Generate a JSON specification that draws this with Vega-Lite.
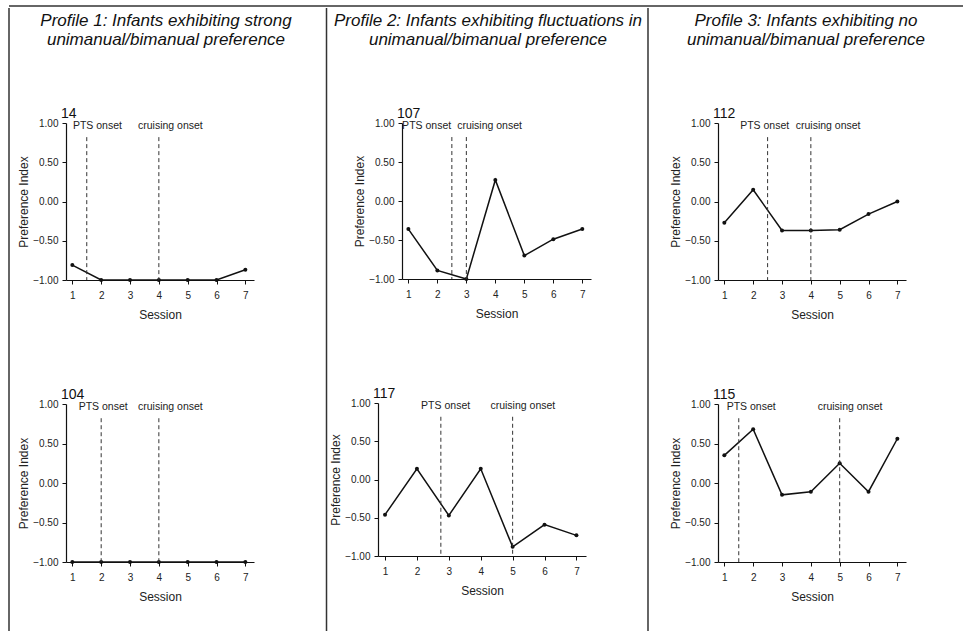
{
  "$schema": "https://vega.github.io/schema/vega-lite/v6.json",
  "padding": {"left": 8, "top": 5, "right": 0, "bottom": 0},
  "datasets": {
    "pts": [
      {"infant": 14, "session": 1, "pi": -0.81}, {"infant": 14, "session": 2, "pi": -1.0}, {"infant": 14, "session": 3, "pi": -1.0}, {"infant": 14, "session": 4, "pi": -1.0}, {"infant": 14, "session": 5, "pi": -1.0}, {"infant": 14, "session": 6, "pi": -1.0}, {"infant": 14, "session": 7, "pi": -0.87},
      {"infant": 104, "session": 1, "pi": -1.0}, {"infant": 104, "session": 2, "pi": -1.0}, {"infant": 104, "session": 3, "pi": -1.0}, {"infant": 104, "session": 4, "pi": -1.0}, {"infant": 104, "session": 5, "pi": -1.0}, {"infant": 104, "session": 6, "pi": -1.0}, {"infant": 104, "session": 7, "pi": -1.0},
      {"infant": 107, "session": 1, "pi": -0.36}, {"infant": 107, "session": 2, "pi": -0.89}, {"infant": 107, "session": 3, "pi": -1.0}, {"infant": 107, "session": 4, "pi": 0.27}, {"infant": 107, "session": 5, "pi": -0.7}, {"infant": 107, "session": 6, "pi": -0.49}, {"infant": 107, "session": 7, "pi": -0.36},
      {"infant": 117, "session": 1, "pi": -0.46}, {"infant": 117, "session": 2, "pi": 0.14}, {"infant": 117, "session": 3, "pi": -0.47}, {"infant": 117, "session": 4, "pi": 0.14}, {"infant": 117, "session": 5, "pi": -0.88}, {"infant": 117, "session": 6, "pi": -0.59}, {"infant": 117, "session": 7, "pi": -0.73},
      {"infant": 112, "session": 1, "pi": -0.27}, {"infant": 112, "session": 2, "pi": 0.15}, {"infant": 112, "session": 3, "pi": -0.37}, {"infant": 112, "session": 4, "pi": -0.37}, {"infant": 112, "session": 5, "pi": -0.36}, {"infant": 112, "session": 6, "pi": -0.16}, {"infant": 112, "session": 7, "pi": 0.0},
      {"infant": 115, "session": 1, "pi": 0.35}, {"infant": 115, "session": 2, "pi": 0.68}, {"infant": 115, "session": 3, "pi": -0.15}, {"infant": 115, "session": 4, "pi": -0.11}, {"infant": 115, "session": 5, "pi": 0.25}, {"infant": 115, "session": 6, "pi": -0.11}, {"infant": 115, "session": 7, "pi": 0.56}
    ],
    "onsets": [
      {"infant": 14, "event": "PTS onset", "session": 1.5, "label_x": 1.87},
      {"infant": 14, "event": "cruising onset", "session": 4, "label_x": 4.4},
      {"infant": 104, "event": "PTS onset", "session": 2, "label_x": 2.07},
      {"infant": 104, "event": "cruising onset", "session": 4, "label_x": 4.4},
      {"infant": 107, "event": "PTS onset", "session": 2.5, "label_x": 1.63},
      {"infant": 107, "event": "cruising onset", "session": 3, "label_x": 3.8},
      {"infant": 117, "event": "PTS onset", "session": 2.75, "label_x": 2.9},
      {"infant": 117, "event": "cruising onset", "session": 5, "label_x": 5.32},
      {"infant": 112, "event": "PTS onset", "session": 2.5, "label_x": 2.4},
      {"infant": 112, "event": "cruising onset", "session": 4, "label_x": 4.6},
      {"infant": 115, "event": "PTS onset", "session": 1.5, "label_x": 1.93},
      {"infant": 115, "event": "cruising onset", "session": 5, "label_x": 5.36}
    ],
    "frame": [{"edge": 0}]
  },
  "spacing": 0,
  "vconcat": [
    {
      "width": 954, "height": 1,
      "data": {"name": "frame"},
      "mark": {"type": "rule", "color": "#333", "strokeWidth": 1.5},
      "encoding": {
        "x": {"datum": 0, "type": "quantitative", "scale": {"domain": [0, 1]}, "axis": null},
        "x2": {"datum": 1},
        "y": {"datum": 1, "type": "quantitative", "scale": {"domain": [0, 1]}, "axis": null}
      }
    },
    {
      "spacing": 0,
      "hconcat": [
        {
          "width": 8, "height": 508,
          "data": {"name": "frame"},
          "mark": {"type": "rule", "color": "#333", "strokeWidth": 1.5},
          "encoding": {
            "x": {"datum": 0, "type": "quantitative", "scale": {"domain": [0, 1]}, "axis": null},
            "y": {"datum": 0, "type": "quantitative", "scale": {"domain": [0, 1]}, "axis": null},
            "y2": {"datum": 1.2264}
          }
        },
        {
          "title": {"text": ["Profile 1: Infants exhibiting strong", "unimanual/bimanual preference"], "fontSize": 17, "fontStyle": "italic", "lineHeight": 19, "anchor": "middle", "frame": "group", "offset": 58, "dx": 100},
          "spacing": 68,
          "vconcat": [
            {
              "title": {"text": "14", "anchor": "start", "frame": "group", "fontSize": 14, "dx": -5, "offset": -3},
              "width": 188, "height": 157,
              "layer": [
                {"data": {"name": "pts"}, "transform": [{"filter": "datum.infant == 14"}], "mark": {"type": "line", "color": "#111", "strokeWidth": 1.5},
                 "encoding": {"x": {"field": "session", "type": "quantitative", "scale": {"domain": [0.78, 7.3], "nice": false, "zero": false}, "axis": {"title": "Session", "values": [1, 2, 3, 4, 5, 6, 7], "tickCount": 20, "format": "d"}},
                              "y": {"field": "pi", "type": "quantitative", "scale": {"domain": [-1, 1], "nice": false, "zero": false}, "axis": {"title": "Preference Index", "values": [-1, -0.5, 0, 0.5, 1], "tickCount": 20, "format": ".2f"}}}},
                {"data": {"name": "pts"}, "transform": [{"filter": "datum.infant == 14"}], "mark": {"type": "point", "filled": true, "color": "#111", "size": 16, "opacity": 1},
                 "encoding": {"x": {"field": "session", "type": "quantitative", "scale": {"domain": [0.78, 7.3], "nice": false, "zero": false}}, "y": {"field": "pi", "type": "quantitative", "scale": {"domain": [-1, 1], "nice": false, "zero": false}}}},
                {"data": {"name": "onsets"}, "transform": [{"filter": "datum.infant == 14"}], "mark": {"type": "rule", "color": "#333", "strokeWidth": 1, "strokeDash": [4, 3]},
                 "encoding": {"x": {"field": "session", "type": "quantitative", "scale": {"domain": [0.78, 7.3], "nice": false, "zero": false}}, "y": {"datum": 0.82, "type": "quantitative", "scale": {"domain": [-1, 1], "nice": false, "zero": false}}, "y2": {"datum": -1}}},
                {"data": {"name": "onsets"}, "transform": [{"filter": "datum.infant == 14"}], "mark": {"type": "text", "fontSize": 10.5, "baseline": "middle", "color": "#222"},
                 "encoding": {"x": {"field": "label_x", "type": "quantitative", "scale": {"domain": [0.78, 7.3], "nice": false, "zero": false}}, "y": {"datum": 0.96, "type": "quantitative", "scale": {"domain": [-1, 1], "nice": false, "zero": false}}, "text": {"field": "event"}}}
              ]
            },
            {
              "title": {"text": "104", "anchor": "start", "frame": "group", "fontSize": 14, "dx": -5, "offset": -3},
              "width": 188, "height": 158,
              "layer": [
                {"data": {"name": "pts"}, "transform": [{"filter": "datum.infant == 104"}], "mark": {"type": "line", "color": "#111", "strokeWidth": 1.5},
                 "encoding": {"x": {"field": "session", "type": "quantitative", "scale": {"domain": [0.78, 7.3], "nice": false, "zero": false}, "axis": {"title": "Session", "values": [1, 2, 3, 4, 5, 6, 7], "tickCount": 20, "format": "d"}},
                              "y": {"field": "pi", "type": "quantitative", "scale": {"domain": [-1, 1], "nice": false, "zero": false}, "axis": {"title": "Preference Index", "values": [-1, -0.5, 0, 0.5, 1], "tickCount": 20, "format": ".2f"}}}},
                {"data": {"name": "pts"}, "transform": [{"filter": "datum.infant == 104"}], "mark": {"type": "point", "filled": true, "color": "#111", "size": 16, "opacity": 1},
                 "encoding": {"x": {"field": "session", "type": "quantitative", "scale": {"domain": [0.78, 7.3], "nice": false, "zero": false}}, "y": {"field": "pi", "type": "quantitative", "scale": {"domain": [-1, 1], "nice": false, "zero": false}}}},
                {"data": {"name": "onsets"}, "transform": [{"filter": "datum.infant == 104"}], "mark": {"type": "rule", "color": "#333", "strokeWidth": 1, "strokeDash": [4, 3]},
                 "encoding": {"x": {"field": "session", "type": "quantitative", "scale": {"domain": [0.78, 7.3], "nice": false, "zero": false}}, "y": {"datum": 0.82, "type": "quantitative", "scale": {"domain": [-1, 1], "nice": false, "zero": false}}, "y2": {"datum": -1}}},
                {"data": {"name": "onsets"}, "transform": [{"filter": "datum.infant == 104"}], "mark": {"type": "text", "fontSize": 10.5, "baseline": "middle", "color": "#222"},
                 "encoding": {"x": {"field": "label_x", "type": "quantitative", "scale": {"domain": [0.78, 7.3], "nice": false, "zero": false}}, "y": {"datum": 0.96, "type": "quantitative", "scale": {"domain": [-1, 1], "nice": false, "zero": false}}, "text": {"field": "event"}}}
              ]
            }
          ]
        },
        {
          "width": 36.25, "height": 508,
          "data": {"name": "frame"},
          "mark": {"type": "rule", "color": "#333", "strokeWidth": 1.5},
          "encoding": {
            "x": {"datum": 0.952, "type": "quantitative", "scale": {"domain": [0, 1]}, "axis": null},
            "y": {"datum": 0, "type": "quantitative", "scale": {"domain": [0, 1]}, "axis": null},
            "y2": {"datum": 1.2264}
          }
        },
        {
          "title": {"text": ["Profile 2: Infants exhibiting fluctuations in", "unimanual/bimanual preference"], "fontSize": 17, "fontStyle": "italic", "lineHeight": 19, "anchor": "middle", "frame": "group", "offset": 58, "dx": 110},
          "spacing": 68,
          "vconcat": [
            {
              "spacing": -26,
              "hconcat": [
                {
                  "width": 1, "height": 10,
                  "data": {"name": "frame"},
                  "mark": {"type": "rule", "opacity": 0},
                  "encoding": {
                    "x": {"datum": 0, "type": "quantitative", "scale": {"domain": [0, 1]}, "axis": null},
                    "y": {"datum": 0, "type": "quantitative", "scale": {"domain": [0, 1]}, "axis": null},
                    "y2": {"datum": 1}
                  }
                },
                {
                  "title": {"text": "107", "anchor": "start", "frame": "group", "fontSize": 14, "dx": -5, "offset": -3},
                  "width": 189, "height": 156,
                  "layer": [
                    {"data": {"name": "pts"}, "transform": [{"filter": "datum.infant == 107"}], "mark": {"type": "line", "color": "#111", "strokeWidth": 1.5},
                     "encoding": {"x": {"field": "session", "type": "quantitative", "scale": {"domain": [0.78, 7.3], "nice": false, "zero": false}, "axis": {"title": "Session", "values": [1, 2, 3, 4, 5, 6, 7], "tickCount": 20, "format": "d"}},
                                  "y": {"field": "pi", "type": "quantitative", "scale": {"domain": [-1, 1], "nice": false, "zero": false}, "axis": {"title": "Preference Index", "values": [-1, -0.5, 0, 0.5, 1], "tickCount": 20, "format": ".2f"}}}},
                    {"data": {"name": "pts"}, "transform": [{"filter": "datum.infant == 107"}], "mark": {"type": "point", "filled": true, "color": "#111", "size": 16, "opacity": 1},
                     "encoding": {"x": {"field": "session", "type": "quantitative", "scale": {"domain": [0.78, 7.3], "nice": false, "zero": false}}, "y": {"field": "pi", "type": "quantitative", "scale": {"domain": [-1, 1], "nice": false, "zero": false}}}},
                    {"data": {"name": "onsets"}, "transform": [{"filter": "datum.infant == 107"}], "mark": {"type": "rule", "color": "#333", "strokeWidth": 1, "strokeDash": [4, 3]},
                     "encoding": {"x": {"field": "session", "type": "quantitative", "scale": {"domain": [0.78, 7.3], "nice": false, "zero": false}}, "y": {"datum": 0.82, "type": "quantitative", "scale": {"domain": [-1, 1], "nice": false, "zero": false}}, "y2": {"datum": -1}}},
                    {"data": {"name": "onsets"}, "transform": [{"filter": "datum.infant == 107"}], "mark": {"type": "text", "fontSize": 10.5, "baseline": "middle", "color": "#222"},
                     "encoding": {"x": {"field": "label_x", "type": "quantitative", "scale": {"domain": [0.78, 7.3], "nice": false, "zero": false}}, "y": {"datum": 0.96, "type": "quantitative", "scale": {"domain": [-1, 1], "nice": false, "zero": false}}, "text": {"field": "event"}}}
                  ]
                }
              ]
            },
            {
              "title": {"text": "117", "anchor": "start", "frame": "group", "fontSize": 14, "dx": -5, "offset": -3},
              "width": 208, "height": 153,
              "layer": [
                {"data": {"name": "pts"}, "transform": [{"filter": "datum.infant == 117"}], "mark": {"type": "line", "color": "#111", "strokeWidth": 1.5},
                 "encoding": {"x": {"field": "session", "type": "quantitative", "scale": {"domain": [0.78, 7.3], "nice": false, "zero": false}, "axis": {"title": "Session", "values": [1, 2, 3, 4, 5, 6, 7], "tickCount": 20, "format": "d"}},
                              "y": {"field": "pi", "type": "quantitative", "scale": {"domain": [-1, 1], "nice": false, "zero": false}, "axis": {"title": "Preference Index", "values": [-1, -0.5, 0, 0.5, 1], "tickCount": 20, "format": ".2f"}}}},
                {"data": {"name": "pts"}, "transform": [{"filter": "datum.infant == 117"}], "mark": {"type": "point", "filled": true, "color": "#111", "size": 16, "opacity": 1},
                 "encoding": {"x": {"field": "session", "type": "quantitative", "scale": {"domain": [0.78, 7.3], "nice": false, "zero": false}}, "y": {"field": "pi", "type": "quantitative", "scale": {"domain": [-1, 1], "nice": false, "zero": false}}}},
                {"data": {"name": "onsets"}, "transform": [{"filter": "datum.infant == 117"}], "mark": {"type": "rule", "color": "#333", "strokeWidth": 1, "strokeDash": [4, 3]},
                 "encoding": {"x": {"field": "session", "type": "quantitative", "scale": {"domain": [0.78, 7.3], "nice": false, "zero": false}}, "y": {"datum": 0.82, "type": "quantitative", "scale": {"domain": [-1, 1], "nice": false, "zero": false}}, "y2": {"datum": -1}}},
                {"data": {"name": "onsets"}, "transform": [{"filter": "datum.infant == 117"}], "mark": {"type": "text", "fontSize": 10.5, "baseline": "middle", "color": "#222"},
                 "encoding": {"x": {"field": "label_x", "type": "quantitative", "scale": {"domain": [0.78, 7.3], "nice": false, "zero": false}}, "y": {"datum": 0.96, "type": "quantitative", "scale": {"domain": [-1, 1], "nice": false, "zero": false}}, "text": {"field": "event"}}}
              ]
            }
          ]
        },
        {
          "width": 25.5, "height": 508,
          "data": {"name": "frame"},
          "mark": {"type": "rule", "color": "#333", "strokeWidth": 1.5},
          "encoding": {
            "x": {"datum": 0.196, "type": "quantitative", "scale": {"domain": [0, 1]}, "axis": null},
            "y": {"datum": 0, "type": "quantitative", "scale": {"domain": [0, 1]}, "axis": null},
            "y2": {"datum": 1.2264}
          }
        },
        {
          "title": {"text": ["Profile 3: Infants exhibiting no", "unimanual/bimanual preference"], "fontSize": 17, "fontStyle": "italic", "lineHeight": 19, "anchor": "middle", "frame": "group", "offset": 58, "dx": 88},
          "spacing": 68,
          "vconcat": [
            {
              "title": {"text": "112", "anchor": "start", "frame": "group", "fontSize": 14, "dx": -5, "offset": -3},
              "width": 188, "height": 157,
              "layer": [
                {"data": {"name": "pts"}, "transform": [{"filter": "datum.infant == 112"}], "mark": {"type": "line", "color": "#111", "strokeWidth": 1.5},
                 "encoding": {"x": {"field": "session", "type": "quantitative", "scale": {"domain": [0.78, 7.3], "nice": false, "zero": false}, "axis": {"title": "Session", "values": [1, 2, 3, 4, 5, 6, 7], "tickCount": 20, "format": "d"}},
                              "y": {"field": "pi", "type": "quantitative", "scale": {"domain": [-1, 1], "nice": false, "zero": false}, "axis": {"title": "Preference Index", "values": [-1, -0.5, 0, 0.5, 1], "tickCount": 20, "format": ".2f"}}}},
                {"data": {"name": "pts"}, "transform": [{"filter": "datum.infant == 112"}], "mark": {"type": "point", "filled": true, "color": "#111", "size": 16, "opacity": 1},
                 "encoding": {"x": {"field": "session", "type": "quantitative", "scale": {"domain": [0.78, 7.3], "nice": false, "zero": false}}, "y": {"field": "pi", "type": "quantitative", "scale": {"domain": [-1, 1], "nice": false, "zero": false}}}},
                {"data": {"name": "onsets"}, "transform": [{"filter": "datum.infant == 112"}], "mark": {"type": "rule", "color": "#333", "strokeWidth": 1, "strokeDash": [4, 3]},
                 "encoding": {"x": {"field": "session", "type": "quantitative", "scale": {"domain": [0.78, 7.3], "nice": false, "zero": false}}, "y": {"datum": 0.82, "type": "quantitative", "scale": {"domain": [-1, 1], "nice": false, "zero": false}}, "y2": {"datum": -1}}},
                {"data": {"name": "onsets"}, "transform": [{"filter": "datum.infant == 112"}], "mark": {"type": "text", "fontSize": 10.5, "baseline": "middle", "color": "#222"},
                 "encoding": {"x": {"field": "label_x", "type": "quantitative", "scale": {"domain": [0.78, 7.3], "nice": false, "zero": false}}, "y": {"datum": 0.96, "type": "quantitative", "scale": {"domain": [-1, 1], "nice": false, "zero": false}}, "text": {"field": "event"}}}
              ]
            },
            {
              "title": {"text": "115", "anchor": "start", "frame": "group", "fontSize": 14, "dx": -5, "offset": -3},
              "width": 188, "height": 158,
              "layer": [
                {"data": {"name": "pts"}, "transform": [{"filter": "datum.infant == 115"}], "mark": {"type": "line", "color": "#111", "strokeWidth": 1.5},
                 "encoding": {"x": {"field": "session", "type": "quantitative", "scale": {"domain": [0.78, 7.3], "nice": false, "zero": false}, "axis": {"title": "Session", "values": [1, 2, 3, 4, 5, 6, 7], "tickCount": 20, "format": "d"}},
                              "y": {"field": "pi", "type": "quantitative", "scale": {"domain": [-1, 1], "nice": false, "zero": false}, "axis": {"title": "Preference Index", "values": [-1, -0.5, 0, 0.5, 1], "tickCount": 20, "format": ".2f"}}}},
                {"data": {"name": "pts"}, "transform": [{"filter": "datum.infant == 115"}], "mark": {"type": "point", "filled": true, "color": "#111", "size": 16, "opacity": 1},
                 "encoding": {"x": {"field": "session", "type": "quantitative", "scale": {"domain": [0.78, 7.3], "nice": false, "zero": false}}, "y": {"field": "pi", "type": "quantitative", "scale": {"domain": [-1, 1], "nice": false, "zero": false}}}},
                {"data": {"name": "onsets"}, "transform": [{"filter": "datum.infant == 115"}], "mark": {"type": "rule", "color": "#333", "strokeWidth": 1, "strokeDash": [4, 3]},
                 "encoding": {"x": {"field": "session", "type": "quantitative", "scale": {"domain": [0.78, 7.3], "nice": false, "zero": false}}, "y": {"datum": 0.82, "type": "quantitative", "scale": {"domain": [-1, 1], "nice": false, "zero": false}}, "y2": {"datum": -1}}},
                {"data": {"name": "onsets"}, "transform": [{"filter": "datum.infant == 115"}], "mark": {"type": "text", "fontSize": 10.5, "baseline": "middle", "color": "#222"},
                 "encoding": {"x": {"field": "label_x", "type": "quantitative", "scale": {"domain": [0.78, 7.3], "nice": false, "zero": false}}, "y": {"datum": 0.96, "type": "quantitative", "scale": {"domain": [-1, 1], "nice": false, "zero": false}}, "text": {"field": "event"}}}
              ]
            }
          ]
        },
        {
          "width": 43.5, "height": 508,
          "data": {"name": "frame"},
          "mark": {"type": "rule", "color": "#333", "strokeWidth": 1.5},
          "encoding": {
            "x": {"datum": 1, "type": "quantitative", "scale": {"domain": [0, 1]}, "axis": null},
            "y": {"datum": 0, "type": "quantitative", "scale": {"domain": [0, 1]}, "axis": null},
            "y2": {"datum": 1.2264}
          }
        }
      ]
    }
  ],
  "config": {
    "font": "Liberation Sans",
    "view": {"stroke": null},
    "axis": {"grid": false, "domainColor": "#111", "tickColor": "#111", "labelColor": "#222", "titleColor": "#222", "labelFontSize": 10, "titleFontSize": 12, "titleFontWeight": "normal", "tickSize": 4, "domainWidth": 1.2, "tickWidth": 1, "labelOverlap": false, "labelFlush": false},
    "axisX": {"labelPadding": 6, "titlePadding": 9, "labelAngle": 0},
    "axisY": {"labelPadding": 4, "titlePadding": 2},
    "title": {"fontWeight": "normal", "color": "#111"}
  }
}
